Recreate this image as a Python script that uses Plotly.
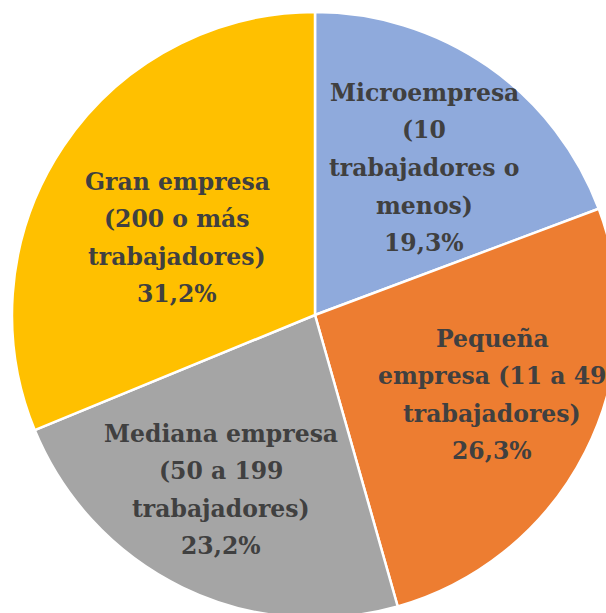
import plotly.graph_objects as go

# ---- data ----
categories = [
    "Microempresa (10 trabajadores o menos)",
    "Pequeña empresa (11 a 49 trabajadores)",
    "Mediana empresa (50 a 199 trabajadores)",
    "Gran empresa (200 o más trabajadores)",
]
label_lines = [
    ["Microempresa", "(10", "trabajadores o", "menos)"],
    ["Pequeña", "empresa (11 a 49", "trabajadores)"],
    ["Mediana empresa", "(50 a 199", "trabajadores)"],
    ["Gran empresa", "(200 o más", "trabajadores)"],
]
values = [19.3, 26.3, 23.2, 31.2]
pct_labels = ["19,3%", "26,3%", "23,2%", "31,2%"]

# ---- style ----
colors = ["#8FAADC", "#ED7D31", "#A5A5A5", "#FFC000"]
text_color = "#404040"
font_family = "DejaVu Serif"
font_size = 23.5
line_gap = 37.5

FIG_W, FIG_H = 640, 640
ML, MT, SIDE = 12, 12, 606

# label block centres (pixels in the page)
label_centres = [(424, 168), (492, 395), (221, 490), (177, 238)]


def px_to_paper(px, py):
    return (px - ML) / SIDE, 1 - (py - MT) / SIDE


fig = go.Figure(
    go.Pie(
        labels=categories,
        values=values,
        sort=False,
        direction="clockwise",
        rotation=0,
        marker=dict(colors=colors, line=dict(color="white", width=2.5)),
        textinfo="none",
        hoverinfo="label+percent",
        showlegend=False,
        domain=dict(x=[0, 1], y=[0, 1]),
    )
)

annotations = []
for lines, pct, (cx, cy) in zip(label_lines, pct_labels, label_centres):
    all_lines = lines + [pct]
    n = len(all_lines)
    for i, t in enumerate(all_lines):
        py = cy + (i - (n - 1) / 2) * line_gap
        x, y = px_to_paper(cx, py)
        annotations.append(
            dict(
                x=x, y=y, xref="paper", yref="paper",
                text="<b>" + t + "</b>", showarrow=False,
                xanchor="center", yanchor="middle",
                font=dict(family=font_family, size=font_size, color=text_color),
            )
        )

fig.update_layout(
    width=FIG_W,
    height=FIG_H,
    margin=dict(l=ML, t=MT, r=FIG_W - ML - SIDE, b=FIG_H - MT - SIDE),
    paper_bgcolor="white",
    plot_bgcolor="white",
    annotations=annotations,
)

fig.write_html(
    "out.html",
    config={"displayModeBar": False},
    post_script="document.body.style.margin='0';document.body.style.overflow='hidden';document.documentElement.style.overflow='hidden';",
)
